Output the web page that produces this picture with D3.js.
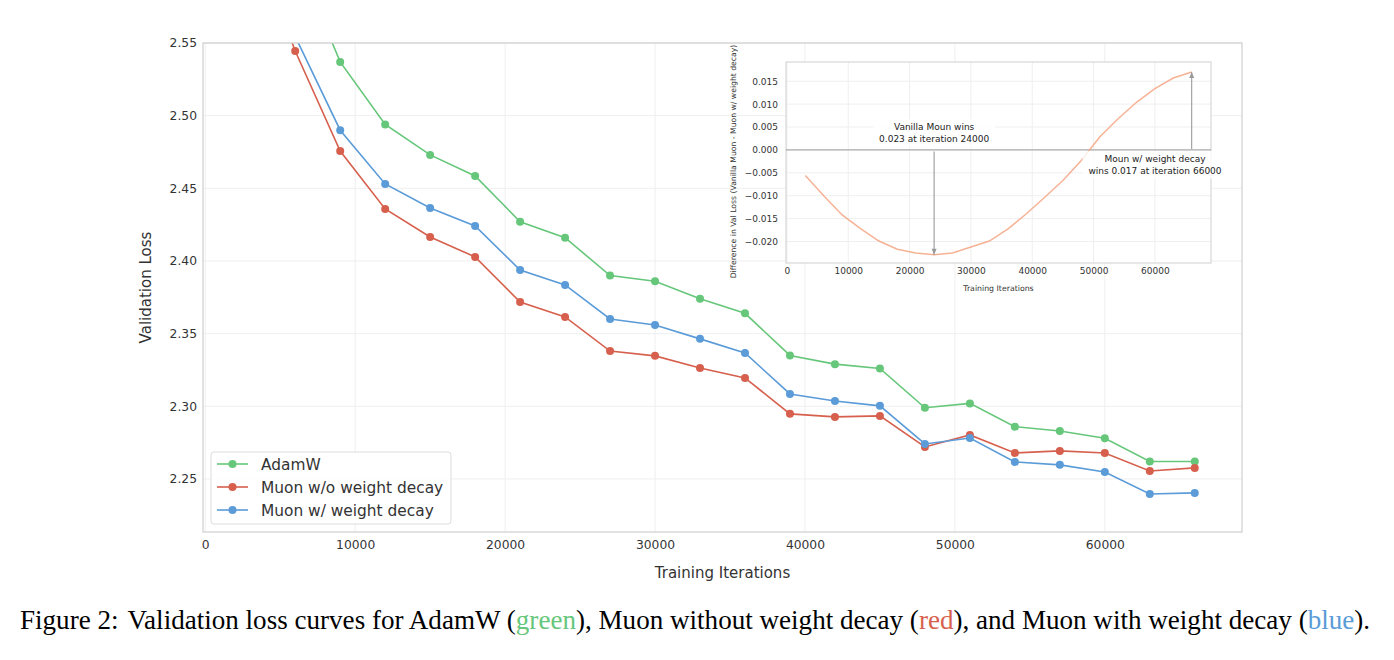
<!DOCTYPE html>
<html>
<head>
<meta charset="utf-8">
<script src="https://cdn.jsdelivr.net/npm/d3@7/dist/d3.min.js"></script>
<style>
  html, body { margin: 0; padding: 0; background: #fff; }
  svg { display: block; }
  text { font-family: "DejaVu Sans", sans-serif; }
  text.caption { font-family: "Liberation Serif", "Times New Roman", serif; }
</style>
</head>
<body>
<svg id="chart" width="1394" height="660"></svg>
<script>
// ---------------- DATA ----------------
const iterations = [3000, 6000, 9000, 12000, 15000, 18000, 21000, 24000, 27000, 30000, 33000,
                    36000, 39000, 42000, 45000, 48000, 51000, 54000, 57000, 60000, 63000, 66000];
const adamw = [2.700, 2.611, 2.537, 2.494, 2.473, 2.4585, 2.427, 2.416, 2.390, 2.386, 2.374,
               2.364, 2.335, 2.329, 2.326, 2.299, 2.302, 2.286, 2.283, 2.278, 2.262, 2.262];
const muonNoWd = [2.627, 2.5445, 2.4757, 2.4358, 2.4165, 2.4028, 2.3718, 2.3615, 2.338, 2.3347, 2.3264,
                  2.3195, 2.2948, 2.2927, 2.2934, 2.272, 2.2803, 2.2679, 2.2693, 2.2679, 2.2555, 2.2576];
const muonWd = [2.633, 2.5545, 2.490, 2.453, 2.4365, 2.4241, 2.3938, 2.3835, 2.3601, 2.356, 2.3464,
                2.3367, 2.3085, 2.3037, 2.3003, 2.2741, 2.2782, 2.2617, 2.2597, 2.2548, 2.2397, 2.2404];
// inset: difference (Vanilla Muon - Muon w/ weight decay), smoothed curve
const diffValues = [-0.0056, -0.0100, -0.0142, -0.0172, -0.0199, -0.0217, -0.0225, -0.0229, -0.0225, -0.0212, -0.0199,
                    -0.0173, -0.0140, -0.0104, -0.0067, -0.0023, 0.0028, 0.0068, 0.0104, 0.0134, 0.0157, 0.0170];
const seriesNames = ["AdamW", "Muon w/o weight decay", "Muon w/ weight decay"];
const seriesColors = ["#66c77a", "#d6604d", "#5a9bd8"];
const mainXTicks = [0, 10000, 20000, 30000, 40000, 50000, 60000];
const mainYTicks = [2.25, 2.30, 2.35, 2.40, 2.45, 2.50, 2.55];
const insetXTicks = [0, 10000, 20000, 30000, 40000, 50000, 60000];
const insetYTicks = [-0.020, -0.015, -0.010, -0.005, 0.000, 0.005, 0.010, 0.015];
const annVanilla = { lines: ["Vanilla Moun wins", "0.023 at iteration 24000"], x: 24000, value: -0.0229 };
const annWd = { lines: ["Moun w/ weight decay", "wins 0.017 at iteration 66000"], x: 66000, value: 0.0170 };
const captionParts = [
  { t: "Validation loss curves for AdamW (", c: "#000" },
  { t: "green", c: seriesColors[0] },
  { t: "), Muon without weight decay (", c: "#000" },
  { t: "red", c: seriesColors[1] },
  { t: "), and Muon with weight decay (", c: "#000" },
  { t: "blue", c: seriesColors[2] },
  { t: ").", c: "#000" }
];

// ---------------- CHART ----------------
const svg = d3.select("#chart");
const series = [adamw, muonNoWd, muonWd];

const M = { left: 203, right: 1242, top: 43, bottom: 532 };
const x = d3.scaleLinear().domain([-150, 69150]).range([M.left, M.right]);
const y = d3.scaleLinear().domain([2.2135, 2.55]).range([M.bottom, M.top]);

const defs = svg.append("defs");
defs.append("clipPath").attr("id", "mainClip")
  .append("rect").attr("x", M.left).attr("y", M.top)
  .attr("width", M.right - M.left).attr("height", M.bottom - M.top);

// grid
const gMain = svg.append("g");
gMain.append("g").selectAll("line").data(mainXTicks).join("line")
  .attr("x1", d => x(d)).attr("x2", d => x(d)).attr("y1", M.top).attr("y2", M.bottom)
  .attr("stroke", "#efefef").attr("stroke-width", 1);
gMain.append("g").selectAll("line").data(mainYTicks).join("line")
  .attr("y1", d => y(d)).attr("y2", d => y(d)).attr("x1", M.left).attr("x2", M.right)
  .attr("stroke", "#efefef").attr("stroke-width", 1);

// axes via d3
const xAxis = d3.axisBottom(x).tickValues(mainXTicks).tickFormat(d3.format("d")).tickSize(0).tickPadding(8);
const yAxis = d3.axisLeft(y).tickValues(mainYTicks).tickFormat(d3.format(".2f")).tickSize(0).tickPadding(6);
const gx = gMain.append("g").attr("transform", `translate(0,${M.bottom})`).call(xAxis);
const gy = gMain.append("g").attr("transform", `translate(${M.left},0)`).call(yAxis);
[gx, gy].forEach(g => {
  g.select(".domain").remove();
  g.selectAll("text").attr("font-size", 12.3).attr("fill", "#333").attr("font-family", "DejaVu Sans");
});

// lines
const lineGen = d3.line().x((d, i) => x(iterations[i])).y(d => y(d));
const gLines = gMain.append("g").attr("clip-path", "url(#mainClip)");
series.forEach((s, k) => {
  gLines.append("path").datum(s).attr("d", lineGen)
    .attr("fill", "none").attr("stroke", seriesColors[k]).attr("stroke-width", 1.6);
  gLines.append("g").selectAll("circle").data(s).join("circle")
    .attr("cx", (d, i) => x(iterations[i])).attr("cy", d => y(d)).attr("r", 4)
    .attr("fill", seriesColors[k]);
});

// frame
gMain.append("rect").attr("x", M.left).attr("y", M.top)
  .attr("width", M.right - M.left).attr("height", M.bottom - M.top)
  .attr("fill", "none").attr("stroke", "#cfcfcf").attr("stroke-width", 1.2);

// axis labels
gMain.append("text").attr("x", (M.left + M.right) / 2).attr("y", 578)
  .attr("text-anchor", "middle").attr("font-size", 15).attr("fill", "#333").text("Training Iterations");
gMain.append("text").attr("transform", `translate(151,${(M.top + M.bottom) / 2}) rotate(-90)`)
  .attr("text-anchor", "middle").attr("font-size", 15).attr("fill", "#333").text("Validation Loss");

// legend
const lg = gMain.append("g");
lg.append("rect").attr("x", 211).attr("y", 452).attr("width", 240).attr("height", 72)
  .attr("rx", 3).attr("fill", "#fff").attr("fill-opacity", 0.85).attr("stroke", "#dcdcdc");
seriesNames.forEach((name, k) => {
  const yy = 464 + k * 23;
  lg.append("line").attr("x1", 217).attr("x2", 248).attr("y1", yy).attr("y2", yy)
    .attr("stroke", seriesColors[k]).attr("stroke-width", 1.6);
  lg.append("circle").attr("cx", 232.5).attr("cy", yy).attr("r", 4).attr("fill", seriesColors[k]);
  lg.append("text").attr("x", 261).attr("y", yy + 5.5).attr("font-size", 15.4).attr("fill", "#333").text(name);
});

// ---------------- INSET ----------------
const I = { left: 786, right: 1211, top: 62, bottom: 263 };
const xi = d3.scaleLinear().domain([-150, 69150]).range([I.left, I.right]);
const yi = d3.scaleLinear().domain([-0.0247, 0.0192]).range([I.bottom, I.top]);
const gIn = svg.append("g");
gIn.append("rect").attr("x", I.left).attr("y", I.top)
  .attr("width", I.right - I.left).attr("height", I.bottom - I.top).attr("fill", "#fff");
gIn.append("g").selectAll("line").data(insetXTicks).join("line")
  .attr("x1", d => xi(d)).attr("x2", d => xi(d)).attr("y1", I.top).attr("y2", I.bottom)
  .attr("stroke", "#efefef");
gIn.append("g").selectAll("line").data(insetYTicks).join("line")
  .attr("y1", d => yi(d)).attr("y2", d => yi(d)).attr("x1", I.left).attr("x2", I.right)
  .attr("stroke", "#efefef");
const xiAxis = d3.axisBottom(xi).tickValues(insetXTicks).tickFormat(d3.format("d")).tickSize(0).tickPadding(5);
const yiAxis = d3.axisLeft(yi).tickValues(insetYTicks).tickFormat(d => d3.format(".3f")(d).replace("-", "\u2212")).tickSize(0).tickPadding(8);
const gxi = gIn.append("g").attr("transform", `translate(0,${I.bottom})`).call(xiAxis);
const gyi = gIn.append("g").attr("transform", `translate(${I.left},0)`).call(yiAxis);
[gxi, gyi].forEach(g => {
  g.select(".domain").remove();
  g.selectAll("text").attr("font-size", 9).attr("fill", "#333").attr("font-family", "DejaVu Sans");
});
gIn.append("rect").attr("x", I.left).attr("y", I.top)
  .attr("width", I.right - I.left).attr("height", I.bottom - I.top)
  .attr("fill", "none").attr("stroke", "#cfcfcf").attr("stroke-width", 1);

// zero line
gIn.append("line").attr("x1", I.left).attr("x2", I.right).attr("y1", yi(0)).attr("y2", yi(0))
  .attr("stroke", "#9a9a9a").attr("stroke-width", 1);

// diff curve
const diffLine = d3.line().x((d, i) => xi(iterations[i])).y(d => yi(d));
gIn.append("path").datum(diffValues).attr("d", diffLine)
  .attr("fill", "none").attr("stroke", "#f4a582").attr("stroke-opacity", 0.85).attr("stroke-width", 1.5);

// inset labels
gIn.append("text").attr("x", (I.left + I.right) / 2).attr("y", 291)
  .attr("text-anchor", "middle").attr("font-size", 7.8).attr("fill", "#333").text("Training Iterations");
gIn.append("text").attr("transform", `translate(735.5,${(I.top + I.bottom) / 2 - 1}) rotate(-90)`)
  .attr("text-anchor", "middle").attr("font-size", 7.7).attr("fill", "#333")
  .text("Difference in Val Loss (Vanilla Muon - Muon w/ weight decay)");

// arrows
function arrow(x0, y0, x1, y1) {
  gIn.append("line").attr("x1", x0).attr("y1", y0).attr("x2", x1).attr("y2", y1)
    .attr("stroke", "#9a9a9a").attr("stroke-width", 1.1);
  const dir = Math.sign(y1 - y0);
  gIn.append("path")
    .attr("d", `M${x1},${y1} L${x1 - 2.5},${y1 - dir * 6} L${x1 + 2.5},${y1 - dir * 6} Z`)
    .attr("fill", "#9a9a9a");
}
function annText(lines, cx, cyTop) {
  const g = gIn.append("g");
  const t = g.append("text").attr("text-anchor", "middle").attr("font-size", 9).attr("fill", "#222");
  lines.forEach((l, i) => t.append("tspan").attr("x", cx).attr("y", cyTop + i * 11.5).text(l));
  const bb = t.node().getBBox();
  g.insert("rect", "text").attr("x", bb.x - 6).attr("y", bb.y - 3)
    .attr("width", bb.width + 12).attr("height", bb.height + 6)
    .attr("fill", "#fff").attr("fill-opacity", 0.8);
}
arrow(xi(annVanilla.x), yi(0) + 1.5, xi(annVanilla.x), yi(annVanilla.value));
annText(annVanilla.lines, xi(annVanilla.x), 130);
annText(annWd.lines, 1155, 162);
arrow(xi(annWd.x), yi(0) - 1, xi(annWd.x), yi(annWd.value));

// ---------------- CAPTION ----------------
const cap = svg.append("text").attr("class", "caption").attr("x", 20).attr("y", 629)
  .attr("font-size", 25);
cap.append("tspan").attr("fill", "#000").text("Figure 2:");
captionParts.forEach((p, i) => {
  cap.append("tspan").attr("fill", p.c).attr("dx", i === 0 ? 9 : 0).text(p.t);
});
const w = cap.node().getComputedTextLength();
const target = 1342;
cap.attr("font-size", 25 * target / w);
</script>
</body>
</html>
